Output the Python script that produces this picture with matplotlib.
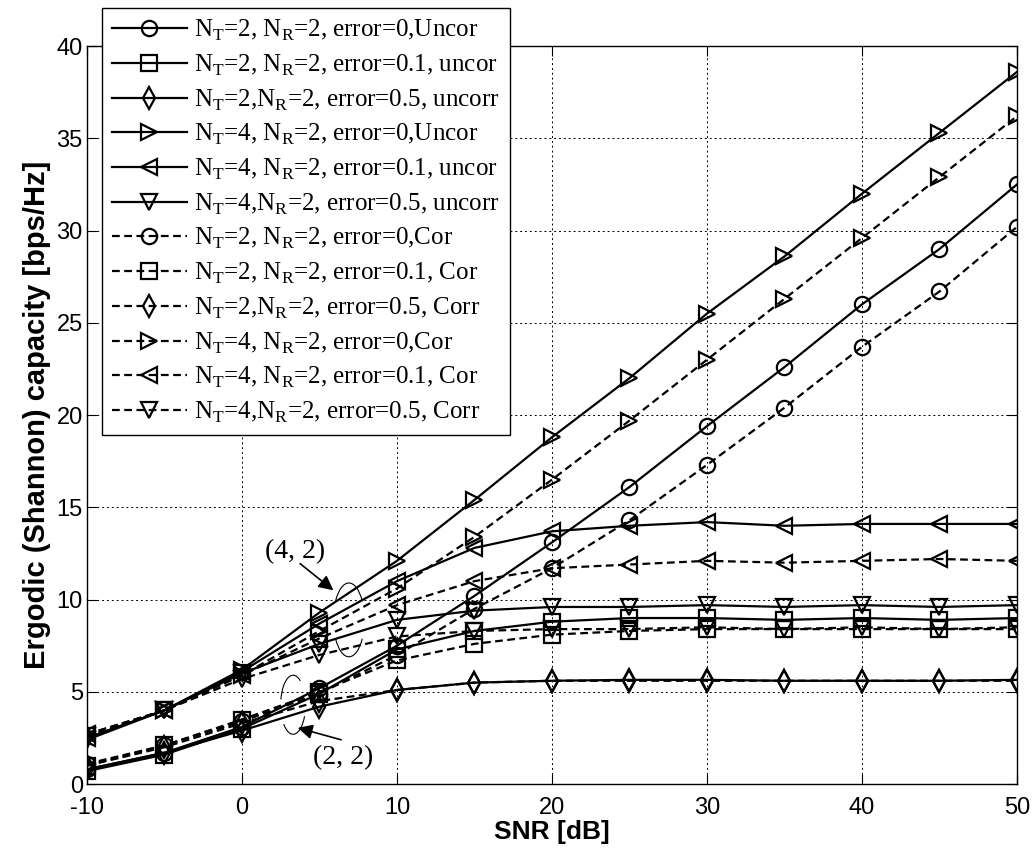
import matplotlib
matplotlib.use("Agg")
import matplotlib.pyplot as plt
from matplotlib.patches import Arc

snr = [-10, -5, 0, 5, 10, 15, 20, 25, 30, 35, 40, 45, 50]

# solid = uncorrelated, dashed = correlated
c22_e0_unc = [0.8, 1.7, 3.1, 5.2, 7.5, 10.2, 13.1, 16.1, 19.4, 22.6, 26.0, 29.0, 32.5]
c22_e01_unc = [0.7, 1.6, 3.0, 4.9, 7.3, 8.3, 8.8, 9.0, 9.0, 8.9, 9.0, 8.9, 9.0]
c22_e05_unc = [0.8, 1.7, 2.9, 4.2, 5.1, 5.5, 5.6, 5.65, 5.65, 5.6, 5.6, 5.6, 5.65]
c42_e0_unc = [2.5, 4.0, 6.2, 9.3, 12.1, 15.4, 18.8, 22.0, 25.5, 28.6, 32.0, 35.3, 38.6]
c42_e01_unc = [2.5, 4.0, 6.1, 8.7, 11.0, 12.8, 13.7, 14.0, 14.2, 14.0, 14.1, 14.1, 14.1]
c42_e05_unc = [2.4, 4.0, 6.0, 7.6, 8.9, 9.4, 9.6, 9.6, 9.7, 9.6, 9.7, 9.6, 9.7]
c22_e0_cor = [1.1, 2.1, 3.4, 4.9, 7.0, 9.5, 11.7, 14.3, 17.3, 20.4, 23.7, 26.7, 30.2]
c22_e01_cor = [1.0, 2.1, 3.5, 5.0, 6.7, 7.6, 8.1, 8.3, 8.4, 8.4, 8.4, 8.4, 8.4]
c22_e05_cor = [1.0, 2.0, 3.3, 4.5, 5.1, 5.5, 5.6, 5.6, 5.6, 5.6, 5.6, 5.6, 5.6]
c42_e0_cor = [2.7, 4.0, 5.9, 8.3, 10.6, 13.4, 16.5, 19.7, 23.0, 26.3, 29.6, 32.9, 36.2]
c42_e01_cor = [2.7, 4.0, 5.9, 7.9, 9.7, 11.0, 11.7, 11.9, 12.1, 12.0, 12.1, 12.2, 12.1]
c42_e05_cor = [2.6, 4.0, 5.7, 7.0, 8.0, 8.3, 8.4, 8.4, 8.5, 8.4, 8.5, 8.4, 8.5]

labels = [
    r"N$_\mathregular{T}$=2, N$_\mathregular{R}$=2, error=0,Uncor",
    r"N$_\mathregular{T}$=2, N$_\mathregular{R}$=2, error=0.1, uncor",
    r"N$_\mathregular{T}$=2,N$_\mathregular{R}$=2, error=0.5, uncorr",
    r"N$_\mathregular{T}$=4, N$_\mathregular{R}$=2, error=0,Uncor",
    r"N$_\mathregular{T}$=4, N$_\mathregular{R}$=2, error=0.1, uncor",
    r"N$_\mathregular{T}$=4,N$_\mathregular{R}$=2, error=0.5, uncorr",
    r"N$_\mathregular{T}$=2, N$_\mathregular{R}$=2, error=0,Cor",
    r"N$_\mathregular{T}$=2, N$_\mathregular{R}$=2, error=0.1, Cor",
    r"N$_\mathregular{T}$=2,N$_\mathregular{R}$=2, error=0.5, Corr",
    r"N$_\mathregular{T}$=4, N$_\mathregular{R}$=2, error=0,Cor",
    r"N$_\mathregular{T}$=4, N$_\mathregular{R}$=2, error=0.1, Cor",
    r"N$_\mathregular{T}$=4,N$_\mathregular{R}$=2, error=0.5, Corr",
]
series = [c22_e0_unc, c22_e01_unc, c22_e05_unc, c42_e0_unc, c42_e01_unc, c42_e05_unc,
          c22_e0_cor, c22_e01_cor, c22_e05_cor, c42_e0_cor, c42_e01_cor, c42_e05_cor]
markers = ["o", "s", "d", ">", "<", "v"] * 2
styles = ["-"] * 6 + ["--"] * 6

plt.rcParams["font.family"] = ["Liberation Sans", "DejaVu Sans"]
plt.rcParams["mathtext.fontset"] = "custom"
plt.rcParams["mathtext.rm"] = "Liberation Serif"
plt.rcParams["axes.unicode_minus"] = False

fig = plt.figure(figsize=(10.35, 8.56), dpi=100)
ax = fig.add_axes([0.084, 0.084, 0.8986, 0.8622])

for y, lab, m, ls in zip(series, labels, markers, styles):
    line, = ax.plot(snr, y, color="black", linestyle=ls, linewidth=1.6,
                    marker=m, markersize=11, markerfacecolor="none",
                    markeredgecolor="black", markeredgewidth=1.6, label=lab)
    if ls == "--":
        line.set_dashes((3.5, 2))

ax.set_xlim(-10, 50)
ax.set_ylim(0, 40)
ax.set_xticks(range(-10, 51, 10))
ax.set_yticks(range(0, 41, 5))
ax.grid(True, color="black", linestyle=(0, (2, 3)), linewidth=0.7)
ax.tick_params(direction="in", length=7, width=0.8, top=True, right=True,
               labelsize=17)
ax.tick_params(axis="x", pad=9)
ax.tick_params(axis="y", pad=3)
for s in ax.spines.values():
    s.set_linewidth(1.0)

ax.set_xlabel("SNR [dB]", fontsize=19, fontweight="bold", labelpad=1)
ax.set_ylabel("Ergodic (Shannon) capacity [bps/Hz]", fontsize=21,
              fontweight="bold", labelpad=4)

leg = ax.legend(loc="upper left", bbox_to_anchor=(0.016, 1.0515),
                borderaxespad=0, fancybox=False, framealpha=1,
                edgecolor="black", handlelength=3.0, handletextpad=0.3,
                borderpad=0.4, labelspacing=0.38,
                prop={"family": "Liberation Serif", "size": 18})
leg.get_frame().set_linewidth(1.0)

# annotations
ax.text(3.4, 12.6, "(4, 2)", fontsize=20, family="Liberation Serif",
        ha="center", va="center")
ax.annotate("", xy=(5.9, 10.5), xytext=(3.75, 11.95),
            arrowprops=dict(arrowstyle="-|>", color="black", lw=1.2,
                            mutation_scale=22, shrinkA=0, shrinkB=0))
ax.text(6.5, 1.45, "(2, 2)", fontsize=20, family="Liberation Serif",
        ha="center", va="center")
ax.annotate("", xy=(3.6, 3.05), xytext=(6.4, 2.4),
            arrowprops=dict(arrowstyle="-|>", color="black", lw=1.2,
                            mutation_scale=22, shrinkA=0, shrinkB=0))
ax.add_patch(Arc((6.9, 8.9), 2.0, 4.0, angle=0, theta1=50, theta2=130,
                 color="black", lw=0.8))
ax.add_patch(Arc((6.9, 8.9), 2.0, 4.0, angle=0, theta1=230, theta2=310,
                 color="black", lw=0.8))
ax.add_patch(Arc((3.3, 4.3), 1.6, 3.2, angle=0, theta1=70, theta2=160,
                 color="black", lw=0.8))
ax.add_patch(Arc((3.3, 4.3), 1.6, 3.2, angle=0, theta1=240, theta2=320,
                 color="black", lw=0.8))

fig.savefig("out.png", dpi=100)
